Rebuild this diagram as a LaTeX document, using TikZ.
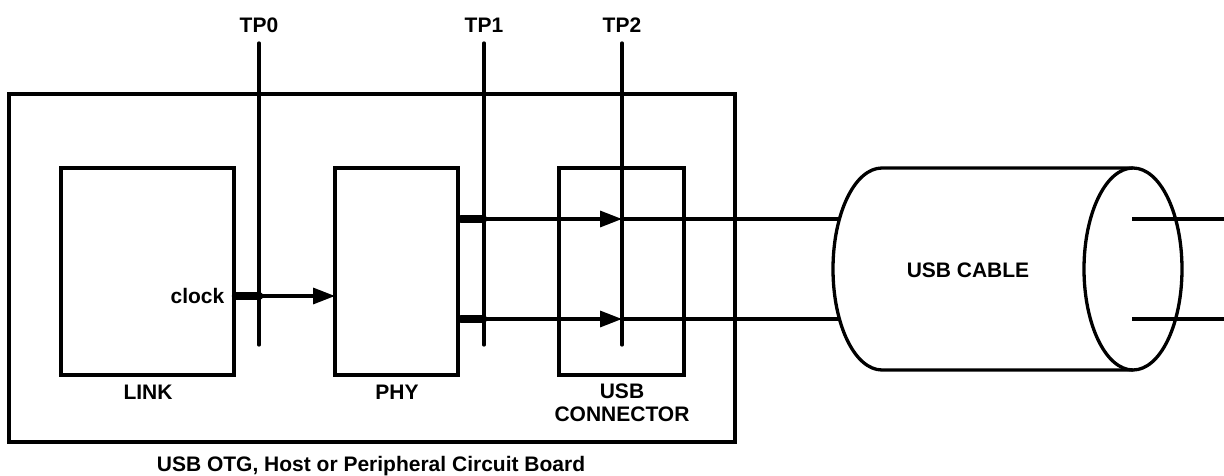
\documentclass[tikz,border=0pt]{standalone}
\usepackage{fontspec}
\setmainfont{Liberation Sans}
\usetikzlibrary{arrows.meta}
\begin{document}
\begin{tikzpicture}[x=1pt,y=-1pt,line width=3.3pt,
  box/.style={draw,inner sep=0pt,outer sep=0pt},
  lbl/.style={font=\fontsize{21}{23.5}\selectfont\bfseries,inner sep=0pt,align=center},
  arr/.style={-{Triangle[length=22pt,width=16pt]}},
  bar/.style={line width=8.5pt,line cap=round},
  tpline/.style={line cap=round}]
\useasboundingbox (0,0) rectangle (1224,476);
% boxes
\node[box,minimum width=726pt,minimum height=348pt] (board) at (372,268) {};
\node[box,minimum width=173pt,minimum height=207pt] (link) at (147.5,271.5) {};
\node[box,minimum width=123pt,minimum height=207pt] (phy) at (396.5,271.5) {};
\node[box,minimum width=125pt,minimum height=207pt] (conn) at (621.5,271.5) {};
% labels
\node[lbl] (linkl) at (148,392) {LINK};
\node[lbl] (phyl) at (397,392) {PHY};
\node[lbl] (connl) at (622,403) {USB\\CONNECTOR};
\node[lbl] (boardl) at (371,466) {USB OTG, Host or Peripheral Circuit Board};
\node[lbl,anchor=east] (clk) at (226,296) {clock};
% test points
\node[lbl] (tp0l) at (259,25) {TP0};
\node[lbl] (tp1l) at (484,25) {TP1};
\node[lbl] (tp2l) at (622,25) {TP2};
\coordinate (tp0t) at (259,43); \coordinate (tp0b) at (259,345);
\coordinate (tp1t) at (484,43); \coordinate (tp1b) at (484,345);
\coordinate (tp2t) at (622,43); \coordinate (tp2b) at (622,345);
\draw[tpline] (tp0t) -- (tp0b);
\draw[tpline] (tp1t) -- (tp1b);
\draw[tpline] (tp2t) -- (tp2b);
% clock
\coordinate (c0) at (236,296); \coordinate (c1) at (259,296);
\draw[bar] (c0) -- (c1);
\draw[arr] (c1) -- (phy.west |- c1);
% phy outputs
\coordinate (a0) at (461,219); \coordinate (a1) at (483,219);
\coordinate (b0) at (461,319); \coordinate (b1) at (483,319);
\coordinate (a2) at (622,219); \coordinate (b2) at (622,319);
\coordinate (a3) at (839,219); \coordinate (b3) at (839,319);
\draw[bar] (a0) -- (a1);
\draw[bar] (b0) -- (b1);
\draw[arr] (a1) -- (a2);
\draw[arr] (b1) -- (b2);
\draw (a2) -- (a3);
\draw (b2) -- (b3);
% cable
\draw (1133,168) -- (882,168) arc[start angle=270,end angle=90,x radius=49,y radius=101] -- (1133,370);
\draw (1133,269) ellipse[x radius=49,y radius=101];
\node[lbl] (cable) at (968,270) {USB CABLE};
\coordinate (ra0) at (1132,219); \coordinate (ra1) at (1224,219);
\coordinate (rb0) at (1132,319); \coordinate (rb1) at (1224,319);
\draw (ra0) -- (ra1);
\draw (rb0) -- (rb1);
\end{tikzpicture}
\end{document}
